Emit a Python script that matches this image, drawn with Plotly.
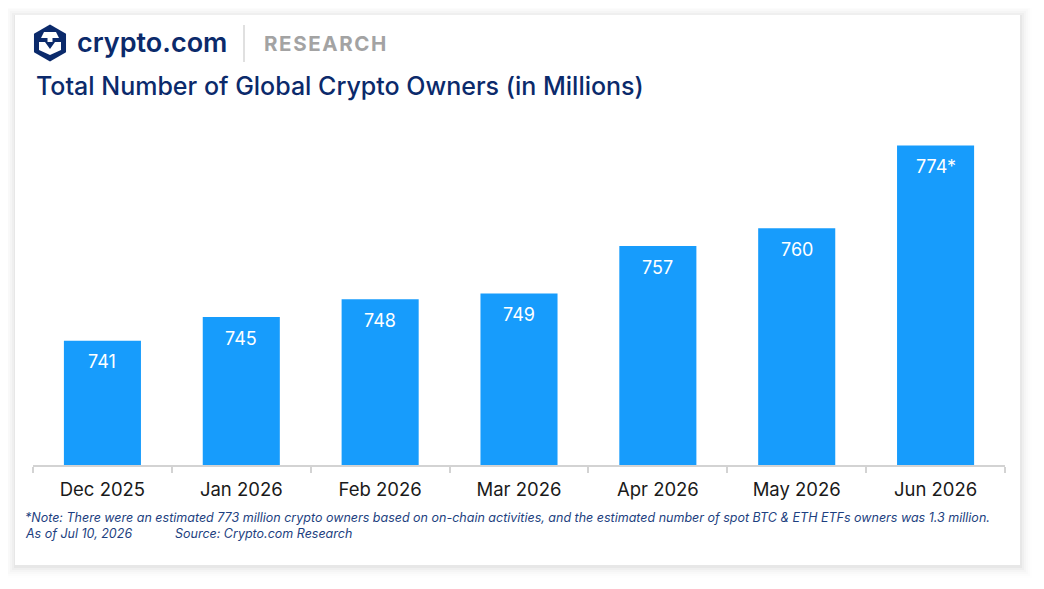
import plotly.graph_objects as go

# data
months = ["Dec 2025", "Jan 2026", "Feb 2026", "Mar 2026", "Apr 2026", "May 2026", "Jun 2026"]
owners = [741, 745, 748, 749, 757, 760, 774]
labels = ["741", "745", "748", "749", "757", "760", "774*"]

# page body adds an 8px offset, so the figure is drawn 8px smaller and coordinates shifted
OFF = 8
W, H = 1044 - OFF, 589 - OFF
NAVY = "#0b2a6b"
BLUE = "#179cfc"
FONT = "Inter"


def px(x):
    return (x - OFF) / W


def py(y):
    return 1 - (y - OFF) / H


fig = go.Figure()
fig.add_trace(go.Bar(
    x=months, y=owners, marker=dict(color=BLUE, line=dict(width=0)),
    width=0.555, hoverinfo="skip", showlegend=False,
))

shapes = []
# soft card shadow, heavier to the bottom right
for i, op in enumerate([0.03, 0.022, 0.016, 0.011, 0.007, 0.004]):
    d = 1 + i * 2
    shapes.append(dict(type="rect", xref="paper", yref="paper", layer="below",
                       x0=px(15 - d), x1=px(1020 + d + 1), y0=py(565 + d + 2), y1=py(15 - d + 1),
                       fillcolor=f"rgba(0,0,0,{op})", line=dict(width=0)))
shapes.append(dict(type="rect", xref="paper", yref="paper", layer="below",
                   x0=px(15), x1=px(1020), y0=py(565), y1=py(15),
                   fillcolor="white", line=dict(width=0)))

# logo hexagon
cx, cy, r = 50, 43, 18.5
hexpts = [(cx, cy - r), (cx + 0.866 * r, cy - r / 2), (cx + 0.866 * r, cy + r / 2),
          (cx, cy + r), (cx - 0.866 * r, cy + r / 2), (cx - 0.866 * r, cy - r / 2)]


def path(pts):
    return "M " + " L ".join(f"{px(a)},{py(b)}" for a, b in pts) + " Z"


shapes.append(dict(type="path", xref="paper", yref="paper", path=path(hexpts),
                   fillcolor=NAVY, line=dict(width=0)))
# lamp-like top piece
shapes.append(dict(type="path", xref="paper", yref="paper",
                   path=path([(44, 32), (56, 32), (59, 38), (41, 38)]),
                   fillcolor="white", line=dict(width=0)))
shapes.append(dict(type="path", xref="paper", yref="paper",
                   path=path([(47.5, 38), (52.5, 38), (52.5, 42), (47.5, 42)]),
                   fillcolor="white", line=dict(width=0)))
# lower white shape
shapes.append(dict(type="path", xref="paper", yref="paper",
                   path=path([(39, 42), (45, 42), (50, 49), (55, 42), (61, 42), (61, 50), (50, 55), (39, 50)]),
                   fillcolor="white", line=dict(width=0)))
# divider
shapes.append(dict(type="line", xref="paper", yref="paper",
                   x0=px(244), x1=px(244), y0=py(25), y1=py(62),
                   line=dict(color="#d6d6d6", width=1.5)))

HS = "\u200a"
annotations = [
    dict(text="crypto.com", x=px(75), y=py(43), xanchor="left", yanchor="middle",
         font=dict(family=FONT, size=27, color=NAVY, weight=600)),
    dict(text=HS.join("RESEARCH"), x=px(262), y=py(44), xanchor="left", yanchor="middle",
         font=dict(family=FONT, size=20.5, color="#a3a3a3", weight=700)),
    dict(text="Total Number of Global Crypto Owners (in Millions)", x=px(34), y=py(86),
         xanchor="left", yanchor="middle", font=dict(family=FONT, size=25, color=NAVY, weight=500)),
    dict(text="<i>*Note: There were an estimated 773 million crypto owners based on on-chain activities, "
              "and the estimated number of spot BTC &amp; ETH ETFs owners was 1.3 million.</i>",
         x=px(23), y=py(517), xanchor="left", yanchor="middle",
         font=dict(family=FONT, size=12.5, color="#1d3f80")),
    dict(text="<i>As of Jul 10, 2026</i>", x=px(23), y=py(533), xanchor="left", yanchor="middle",
         font=dict(family=FONT, size=12.5, color="#1d3f80")),
    dict(text="<i>Source: Crypto.com Research</i>", x=px(173), y=py(533), xanchor="left", yanchor="middle",
         font=dict(family=FONT, size=12.5, color="#1d3f80")),
]
for a in annotations:
    a.update(xref="paper", yref="paper", showarrow=False)

for m, v, t in zip(months, owners, labels):
    annotations.append(dict(x=m, y=v, xref="x", yref="y", text=t, showarrow=False,
                            yanchor="middle", yshift=-21,
                            font=dict(family=FONT, size=18, color="white")))

fig.update_layout(
    width=W, height=H,
    margin=dict(l=0, r=0, t=0, b=0),
    paper_bgcolor="white", plot_bgcolor="rgba(0,0,0,0)",
    shapes=shapes, annotations=annotations,
    xaxis=dict(domain=[px(33), px(1005)], range=[-0.5, 6.5], showgrid=False,
               showline=True, linecolor="#d3d3d3", linewidth=2,
               ticks="outside", tickson="boundaries", ticklen=6, tickcolor="#d3d3d3", tickwidth=1.5,
               ticklabelstandoff=7,
               tickfont=dict(family=FONT, size=18.5, color="#1a1a1a"), automargin=False),
    yaxis=dict(domain=[py(465), py(110)], range=[720, 780], visible=False,
               showgrid=False, zeroline=False, fixedrange=True),
    font=dict(family=FONT),
)

fig.write_html("out.html")
